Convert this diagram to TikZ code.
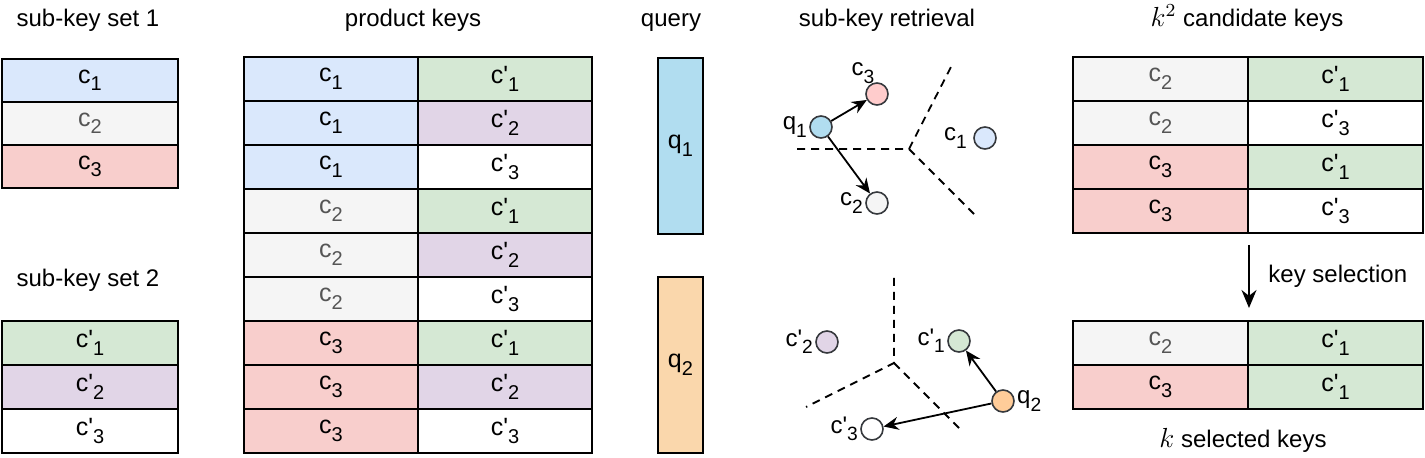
\documentclass[tikz,border=0pt]{standalone}
\usepackage{fontspec}
\setmainfont{Liberation Sans}
\usetikzlibrary{arrows.meta}

\definecolor{keyblue}{HTML}{DAE8FC}
\definecolor{keygrey}{HTML}{F5F5F5}
\definecolor{keyred}{HTML}{F8CECC}
\definecolor{keygreen}{HTML}{D5E8D4}
\definecolor{keypurple}{HTML}{E1D5E7}
\definecolor{qblue}{HTML}{B1DDF0}
\definecolor{qorange}{HTML}{FAD7AC}
\definecolor{dotorange}{HTML}{FFCC99}
\definecolor{dotred}{HTML}{FFCCCC}
\definecolor{dotline}{HTML}{36393D}
\definecolor{greytext}{HTML}{555555}

\newcommand{\lowsub}[1]{\raisebox{-0.3em}{\scalebox{0.8}{#1}}}
\newcommand{\ck}[1]{c\lowsub{#1}}
\newcommand{\cp}[1]{c\textquotesingle\lowsub{#1}}

\begin{document}
\begin{tikzpicture}[
    x=0.5pt, y=-0.5pt,
    title/.style={font=\fontsize{12pt}{15pt}\selectfont, anchor=base},
    cell/.style={draw, line width=1pt, minimum width=87pt, minimum height=22pt,
        inner sep=0pt, anchor=north west, font=\fontsize{12.5pt}{14pt}\selectfont},
    wide/.style={cell, minimum width=88pt, minimum height=21.5pt},
    qbox/.style={cell, minimum width=22.5pt, minimum height=88pt},
    dot/.style={circle, draw=dotline, line width=0.8pt, minimum size=11pt, inner sep=0pt},
    lab/.style={font=\fontsize{12pt}{14pt}\selectfont, inner sep=1pt},
    border/.style={dash pattern=on 4pt off 3pt, line width=0.9pt},
    pick/.style={-{Stealth[length=7.5pt, width=6.5pt]}, line width=0.9pt},
    bigarrow/.style={-{Stealth[length=9pt, width=7.5pt]}, line width=0.8pt}
]
\useasboundingbox (0,0) rectangle (1425,458);

% titles
\node[title] (t1) at (88,27) {sub-key set 1};
\node[title] (t2) at (88,287) {sub-key set 2};
\node[title] (tp) at (413,27) {product keys};
\node[title] (tq) at (671,27) {query};
\node[title] (tr) at (887,27) {sub-key retrieval};
\node[title] (tc) at (1247,27) {\scalebox{1.15}{$k^2$} candidate keys};
\node[title] (ts) at (1243,448) {\scalebox{1.15}{$k$} selected keys};

% sub-key sets
\node[wide, fill=keyblue] (a1) at (1,58) {\ck1};
\node[wide, fill=keygrey, text=greytext] (a2) at (1,101) {\ck2};
\node[wide, fill=keyred] (a3) at (1,144) {\ck3};

\node[wide, minimum height=22pt, fill=keygreen] (b1) at (1,320) {\cp1};
\node[wide, minimum height=22pt, fill=keypurple] (b2) at (1,364) {\cp2};
\node[wide, minimum height=22pt, fill=white] (b3) at (1,408) {\cp3};

% product keys
\foreach \i/\ca/\fa/\cb/\fb in {1/1/keyblue/1/keygreen, 2/1/keyblue/2/keypurple,
    3/1/keyblue/3/white, 4/2/keygrey/1/keygreen, 5/2/keygrey/2/keypurple,
    6/2/keygrey/3/white, 7/3/keyred/1/keygreen, 8/3/keyred/2/keypurple,
    9/3/keyred/3/white}{
    \ifnum\ca=2 \def\tc{greytext}\else\def\tc{black}\fi
    \node[cell, fill=\fa, text=\tc] (p\i a) at (243,12+44*\i) {\ck\ca};
    \node[cell, fill=\fb] (p\i b) at (417,12+44*\i) {\cp\cb};
}

% query
\node[qbox, fill=qblue] (q1box) at (657,57) {q\lowsub{1}};
\node[qbox, fill=qorange] (q2box) at (657,276) {q\lowsub{2}};

% sub-key retrieval, set 1
\coordinate (v1) at (909,149);
\coordinate (v1a) at (797,149);
\coordinate (v1b) at (953,63);
\coordinate (v1c) at (974,214);
\draw[border] (v1a) -- (v1) -- (v1b);
\draw[border] (v1) -- (v1c);

\node[dot, fill=qblue] (q1) at (821,127) {};
\node[dot, fill=dotred] (c3) at (877,94) {};
\node[dot, fill=keygrey] (c2) at (877,203) {};
\node[dot, fill=keyblue] (c1) at (985,138) {};
\node[lab, anchor=east] at (q1.west) {q\lowsub{1}};
\node[lab, anchor=south east] at ([xshift=4pt]c3.north west) {\ck3};
\node[lab, anchor=east] at (c2.west) {\ck2};
\node[lab, anchor=east] at ([xshift=-2pt]c1.west) {\ck1};
\draw[pick] (q1) -- (c3);
\draw[pick] (q1) -- (c2);

% sub-key retrieval, set 2
\coordinate (v2) at (894,363);
\coordinate (v2a) at (894,278);
\coordinate (v2b) at (806,407);
\coordinate (v2c) at (959,428);
\draw[border] (v2a) -- (v2) -- (v2b);
\draw[border] (v2) -- (v2c);

\node[dot, fill=keypurple] (d2) at (827,342) {};
\node[dot, fill=keygreen] (d1) at (959,341) {};
\node[dot, fill=dotorange] (q2) at (1003,401) {};
\node[dot, fill=white] (d3) at (872,429) {};
\node[lab, anchor=east] at (d2.west) {\cp2};
\node[lab, anchor=east] at (d1.west) {\cp1};
\node[lab, anchor=west] at (q2.east) {q\lowsub{2}};
\node[lab, anchor=east] at (d3.west) {\cp3};
\draw[pick] (q2) -- (d1);
\draw[pick] (q2) -- (d3);

% candidate and selected keys
\node[cell, minimum width=87.5pt, fill=keygrey, text=greytext] (r1a) at (1072,56) {\ck2};
\node[cell, minimum width=87.5pt, fill=keygreen] (r1b) at (1247,56) {\cp1};
\node[cell, minimum width=87.5pt, fill=keygrey, text=greytext] (r2a) at (1072,100) {\ck2};
\node[cell, minimum width=87.5pt, fill=white] (r2b) at (1247,100) {\cp3};
\node[cell, minimum width=87.5pt, fill=keyred] (r3a) at (1072,144) {\ck3};
\node[cell, minimum width=87.5pt, fill=keygreen] (r3b) at (1247,144) {\cp1};
\node[cell, minimum width=87.5pt, fill=keyred] (r4a) at (1072,188) {\ck3};
\node[cell, minimum width=87.5pt, fill=white] (r4b) at (1247,188) {\cp3};

\node[cell, minimum width=87.5pt, fill=keygrey, text=greytext] (s1a) at (1072,320) {\ck2};
\node[cell, minimum width=87.5pt, fill=keygreen] (s1b) at (1247,320) {\cp1};
\node[cell, minimum width=87.5pt, fill=keyred] (s2a) at (1072,364) {\ck3};
\node[cell, minimum width=87.5pt, fill=keygreen] (s2b) at (1247,364) {\cp1};

\draw[bigarrow] ([yshift=-5.5pt]r4a.south east) -- ([yshift=6pt]s1a.north east)
    node[midway, right=6pt, title, anchor=west] {key selection};

\end{tikzpicture}
\end{document}
